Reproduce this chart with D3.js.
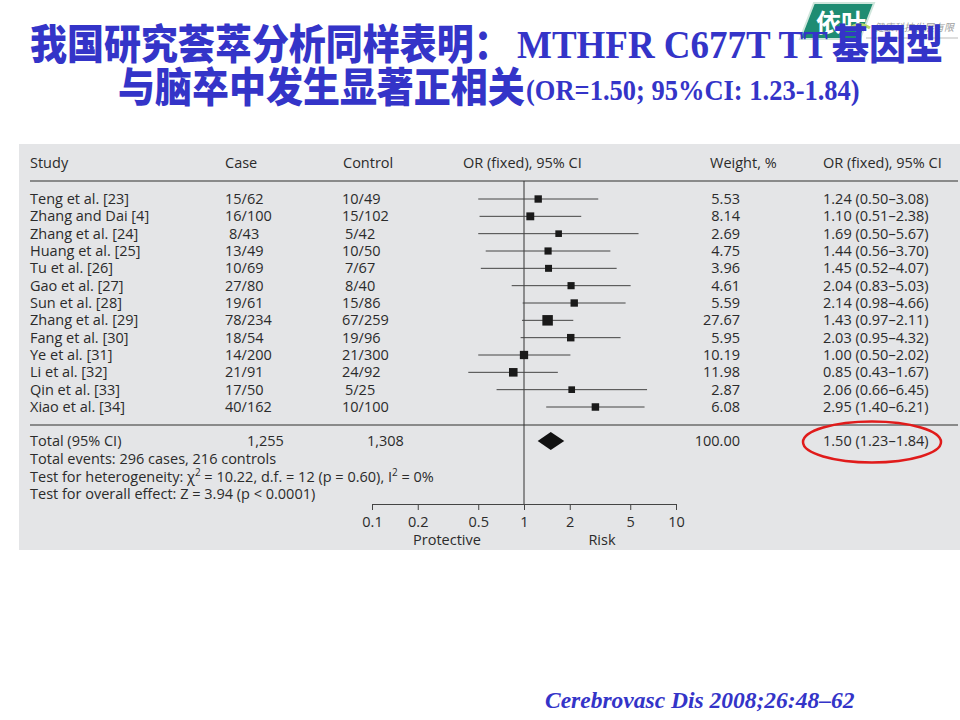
<!DOCTYPE html>
<html>
<head>
<meta charset="utf-8">
<script src="https://cdn.jsdelivr.net/npm/d3@7/dist/d3.min.js"></script>
<style>
  html, body { margin: 0; padding: 0; background: #fff; }
  svg { display: block; }
</style>
</head>
<body>
<svg id="chart" width="960" height="720"></svg>
<script>
// ---------- DATA ----------
const studies = ["Teng et al. [23]", "Zhang and Dai [4]", "Zhang et al. [24]", "Huang et al. [25]",
  "Tu et al. [26]", "Gao et al. [27]", "Sun et al. [28]", "Zhang et al. [29]", "Fang et al. [30]",
  "Ye et al. [31]", "Li et al. [32]", "Qin et al. [33]", "Xiao et al. [34]"];
const cases    = ["15/62", "16/100", "8/43", "13/49", "10/69", "27/80", "19/61", "78/234", "18/54", "14/200", "21/91", "17/50", "40/162"];
const controls = ["10/49", "15/102", "5/42", "10/50", "7/67", "8/40", "15/86", "67/259", "19/96", "21/300", "24/92", "5/25", "10/100"];
const weights  = [5.53, 8.14, 2.69, 4.75, 3.96, 4.61, 5.59, 27.67, 5.95, 10.19, 11.98, 2.87, 6.08];
const orValues = [1.24, 1.10, 1.69, 1.44, 1.45, 2.04, 2.14, 1.43, 2.03, 1.00, 0.85, 2.06, 2.95];
const ciLow    = [0.50, 0.51, 0.50, 0.56, 0.52, 0.83, 0.98, 0.97, 0.95, 0.50, 0.43, 0.66, 1.40];
const ciHigh   = [3.08, 2.38, 5.67, 3.70, 4.07, 5.03, 4.66, 2.11, 4.32, 2.02, 1.67, 6.45, 6.21];
const total = { label: "Total (95% CI)", cases: "1,255", controls: "1,308", weight: "100.00", or: 1.50, lo: 1.23, hi: 1.84 };
const footLines = [
  "Total events: 296 cases, 216 controls",
  "Test for heterogeneity: χ\u00B2 = 10.22, d.f. = 12 (p = 0.60), I\u00B2 = 0%",
  "Test for overall effect: Z = 3.94 (p < 0.0001)"
];
const tickValues = [0.1, 0.2, 0.5, 1, 2, 5, 10];
const tickLabels = ["0.1", "0.2", "0.5", "1", "2", "5", "10"];
const headers = ["Study", "Case", "Control", "OR (fixed), 95% CI", "Weight, %", "OR (fixed), 95% CI"];
const titleLine1 = ["我国研究荟萃分析同样表明：", "MTHFR C677T TT", "基因型"];
const titleLine2 = ["与脑卒中发生显著正相关", "(OR=1.50; 95%CI: 1.23-1.84)"];
const citation = "Cerebrovasc Dis 2008;26:48–62";

// ---------- DRAW ----------
const svg = d3.select("#chart");
const blue = "#3434C8";
const ink = "#2b2b2b";
const font = "'Open Sans', 'Noto Sans', sans-serif";
const fs = 14.5;

// logo (top right)
const logo = svg.append("g");
logo.append("path")
  .attr("d", "M814,3 L874,3 L860,39 L800,39 Z")
  .attr("fill", "#1e8c72").attr("stroke", "#cfe6dc").attr("stroke-width", 2);
logo.append("text").attr("x", 816).attr("y", 32)
  .attr("font-family", "'Noto Sans CJK SC', sans-serif").attr("font-weight", "bold")
  .attr("font-size", 25).attr("fill", "#ffffff").text("依叶");
logo.append("path").attr("d", "M848,30 Q858,20 870,28").attr("fill", "none")
  .attr("stroke", "#b9d96a").attr("stroke-width", 3);
logo.append("text").attr("x", 874).attr("y", 31)
  .attr("font-family", "'Noto Sans CJK SC', sans-serif").attr("font-size", 10)
  .attr("fill", "#a0a0a0").attr("font-style", "italic").text("健康科技发展有限");
logo.append("line").attr("x1", 866).attr("x2", 958).attr("y1", 38).attr("y2", 38)
  .attr("stroke", "#bbbbbb").attr("stroke-width", 1);

// title
const cjk = "'Noto Sans CJK SC', sans-serif";
const l1 = svg.append("g").attr("transform", "translate(0,59) scale(1,1.1)");
const t1 = l1.append("text").attr("y", 0).attr("fill", blue).attr("font-weight", 900);
t1.append("tspan").attr("x", 30).attr("font-family", cjk).attr("font-size", 37).text(titleLine1[0]);
t1.append("tspan").attr("x", 517).attr("dy", -1).attr("font-family", "'Liberation Serif', serif").attr("font-weight", "bold").attr("font-size", 37).text(titleLine1[1]);
t1.append("tspan").attr("x", 832).attr("dy", 1).attr("font-family", cjk).attr("font-size", 37).text(titleLine1[2]);

const l2 = svg.append("g").attr("transform", "translate(0,102) scale(1,1.1)");
const t2 = l2.append("text").attr("y", 0).attr("fill", blue).attr("font-weight", 900);
t2.append("tspan").attr("x", 118).attr("font-family", cjk).attr("font-size", 37).text(titleLine2[0]);
t2.append("tspan").attr("x", 526).attr("dy", -2).attr("font-family", "'Liberation Serif', serif").attr("font-weight", "bold").attr("font-size", 26.5).text(titleLine2[1]);

// panel
svg.append("rect").attr("x", 19).attr("y", 144).attr("width", 941).attr("height", 406).attr("fill", "#e4e5e7");

const x = d3.scaleLog().domain([0.1, 10]).range([372, 676]);
const rowY = d3.scaleLinear().domain([0, studies.length - 1]).range([199, 407]);
const sq = d3.scaleSqrt().domain([2.69, 27.67]).range([6.6, 10.5]);

const g = svg.append("g").attr("font-family", font).attr("font-size", fs).attr("fill", ink);

// headers
const headerX = [30, 225, 343, 463, 710, 823];
headers.forEach((h, i) => {
  g.append("text").attr("x", headerX[i]).attr("y", 163).attr("dy", "0.35em").text(h);
});
g.append("line").attr("x1", 30).attr("x2", 958).attr("y1", 181).attr("y2", 181)
  .attr("stroke", "#6b6b6b").attr("stroke-width", 1.5);
g.append("line").attr("x1", 30).attr("x2", 958).attr("y1", 425).attr("y2", 425)
  .attr("stroke", "#6b6b6b").attr("stroke-width", 1.5);

// null line
g.append("line").attr("x1", x(1)).attr("x2", x(1)).attr("y1", 181).attr("y2", 504)
  .attr("stroke", "#333").attr("stroke-width", 1);

// rows
const fmt2 = d3.format(".2f");
studies.forEach((s, i) => {
  const y = rowY(i);
  g.append("text").attr("x", 30).attr("y", y).attr("dy", "0.35em").text(s);
  g.append("text").attr("x", cases[i].indexOf("/") === 1 ? 229 : 225).attr("y", y).attr("dy", "0.35em").text(cases[i]);
  g.append("text").attr("x", controls[i].indexOf("/") === 1 ? 345 : 342).attr("y", y).attr("dy", "0.35em").text(controls[i]);
  g.append("text").attr("x", 740).attr("y", y).attr("dy", "0.35em").attr("text-anchor", "end").text(fmt2(weights[i]));
  g.append("text").attr("x", 823).attr("y", y).attr("dy", "0.35em")
    .text(`${fmt2(orValues[i])} (${fmt2(ciLow[i])}–${fmt2(ciHigh[i])})`);
  g.append("line").attr("x1", x(ciLow[i])).attr("x2", x(ciHigh[i])).attr("y1", y).attr("y2", y)
    .attr("stroke", "#444").attr("stroke-width", 1);
  const s2 = sq(weights[i]);
  g.append("rect").attr("x", x(orValues[i]) - s2 / 2).attr("y", y - s2 / 2)
    .attr("width", s2).attr("height", s2).attr("fill", "#1a1a1a");
});

// total row
const ty = 441;
g.append("text").attr("x", 30).attr("y", ty).attr("dy", "0.35em").text(total.label);
g.append("text").attr("x", 247).attr("y", ty).attr("dy", "0.35em").text(total.cases);
g.append("text").attr("x", 367).attr("y", ty).attr("dy", "0.35em").text(total.controls);
g.append("text").attr("x", 740).attr("y", ty).attr("dy", "0.35em").attr("text-anchor", "end").text(total.weight);
g.append("text").attr("x", 823).attr("y", ty).attr("dy", "0.35em")
  .text(`${fmt2(total.or)} (${fmt2(total.lo)}–${fmt2(total.hi)})`);
g.append("path")
  .attr("d", `M${x(total.lo)},${ty} L${x(total.or)},${ty - 9} L${x(total.hi)},${ty} L${x(total.or)},${ty + 9} Z`)
  .attr("fill", "#111");

footLines.forEach((l, i) => {
  const t = g.append("text").attr("x", 30).attr("y", 459 + i * 17.5).attr("dy", "0.35em");
  const parts = l.split("\u00B2");
  let shift = 0;
  parts.forEach((p, j) => {
    const ts = t.append("tspan").text(p);
    if (shift) { ts.attr("dy", shift); shift = 0; }
    if (j < parts.length - 1) {
      t.append("tspan").attr("font-size", 10).attr("dy", -6).text("2");
      shift = 6;
    }
  });
});

// axis
const axis = d3.axisBottom(x).tickValues(tickValues)
  .tickFormat((d, i) => tickLabels[i]).tickSize(6).tickSizeOuter(0).tickPadding(7);
const ag = svg.append("g").attr("transform", "translate(0,504)").call(axis);
ag.select(".domain").attr("stroke", "#444");
ag.selectAll(".tick line").attr("stroke", "#444");
ag.selectAll(".tick text").attr("font-family", font).attr("font-size", fs).attr("fill", ink);

g.append("text").attr("x", 447).attr("y", 540).attr("dy", "0.35em").attr("text-anchor", "middle").text("Protective");
g.append("text").attr("x", 602).attr("y", 540).attr("dy", "0.35em").attr("text-anchor", "middle").text("Risk");

// red ellipse
svg.append("ellipse").attr("cx", 872).attr("cy", 442).attr("rx", 69).attr("ry", 20.5)
  .attr("fill", "none").attr("stroke", "#e01b1b").attr("stroke-width", 2.5);

// citation
svg.append("text").attr("x", 545).attr("y", 708)
  .attr("font-family", "'Liberation Serif', serif").attr("font-weight", "bold").attr("font-style", "italic")
  .attr("font-size", 23.5).attr("fill", blue).text(citation);
</script>
</body>
</html>
